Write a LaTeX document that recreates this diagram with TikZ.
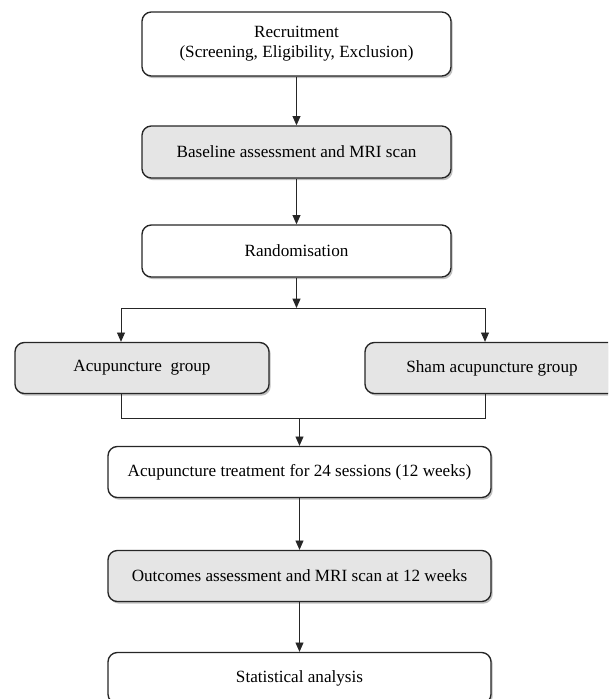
\documentclass[tikz,border=0pt]{standalone}
\usepackage{fontspec}
\setmainfont{Liberation Serif}
\usetikzlibrary{arrows.meta, positioning, calc, shadows}

\begin{document}
\begin{tikzpicture}[
    x=0.75pt, y=-0.75pt,
    box/.style={rectangle, draw=black!85, line width=1pt, fill=white, minimum width=231.75pt, minimum height=38.25pt, align=center, rounded corners=7pt, font=\fontsize{12.85}{15.2}\selectfont, drop shadow={shadow xshift=1.3pt, shadow yshift=-1.6pt, opacity=0.5}},
    greybox/.style={box, fill=black!10},
    arrow/.style={-{Triangle[width=6pt, length=7pt]}, line width=0.7pt, black!85},
    line/.style={line width=0.7pt, black!85}
]
    \useasboundingbox (0,0) rectangle (608,699);
    \clip (0,0) rectangle (608,699);

    \node[box, minimum height=48pt] (recruit) at (296.5,44) {Recruitment\\(Screening, Eligibility, Exclusion)};
    \node[greybox, minimum height=39pt] (baseline) at (296.5,152) {Baseline assessment and MRI scan};
    \node[box, minimum height=39pt] (random) at (296.5,251) {Randomisation};
    \node[greybox, minimum width=190.5pt] (acugroup) at (142,368) {Acupuncture\ \ group};
    \node[greybox, minimum width=190.5pt] (shamgroup) at (492,368) {Sham acupuncture group};
    \node[box, minimum width=287.25pt] (treatment) at (299.5,472) {Acupuncture treatment for 24 sessions (12 weeks)};
    \node[greybox, minimum width=287.25pt] (outcomes) at (299.5,576) {Outcomes assessment and MRI scan at 12 weeks};
    \node[box, minimum width=287.25pt] (stats) at (299.5,678) {Statistical analysis};

    % branch and join points
    \coordinate (split) at (296.5,308);
    \coordinate (splitL) at (121,308);
    \coordinate (splitR) at (485,308);
    \coordinate (merge) at (299.5,418);
    \coordinate (mergeL) at (121,418);
    \coordinate (mergeR) at (485,418);

    \draw[arrow] (recruit) -- (baseline);
    \draw[arrow] (baseline) -- (random);
    \draw[arrow] (random) -- (split);
    \draw[line] (splitL) -- (splitR);
    \draw[arrow] (splitL) -- (splitL |- acugroup.north);
    \draw[arrow] (splitR) -- (splitR |- shamgroup.north);
    \draw[line] (mergeL |- acugroup.south) -- (mergeL) -- (mergeR) -- (mergeR |- shamgroup.south);
    \draw[arrow] (merge) -- (treatment);
    \draw[arrow] (treatment) -- (outcomes);
    \draw[arrow] (outcomes) -- (stats);
\end{tikzpicture}
\end{document}
